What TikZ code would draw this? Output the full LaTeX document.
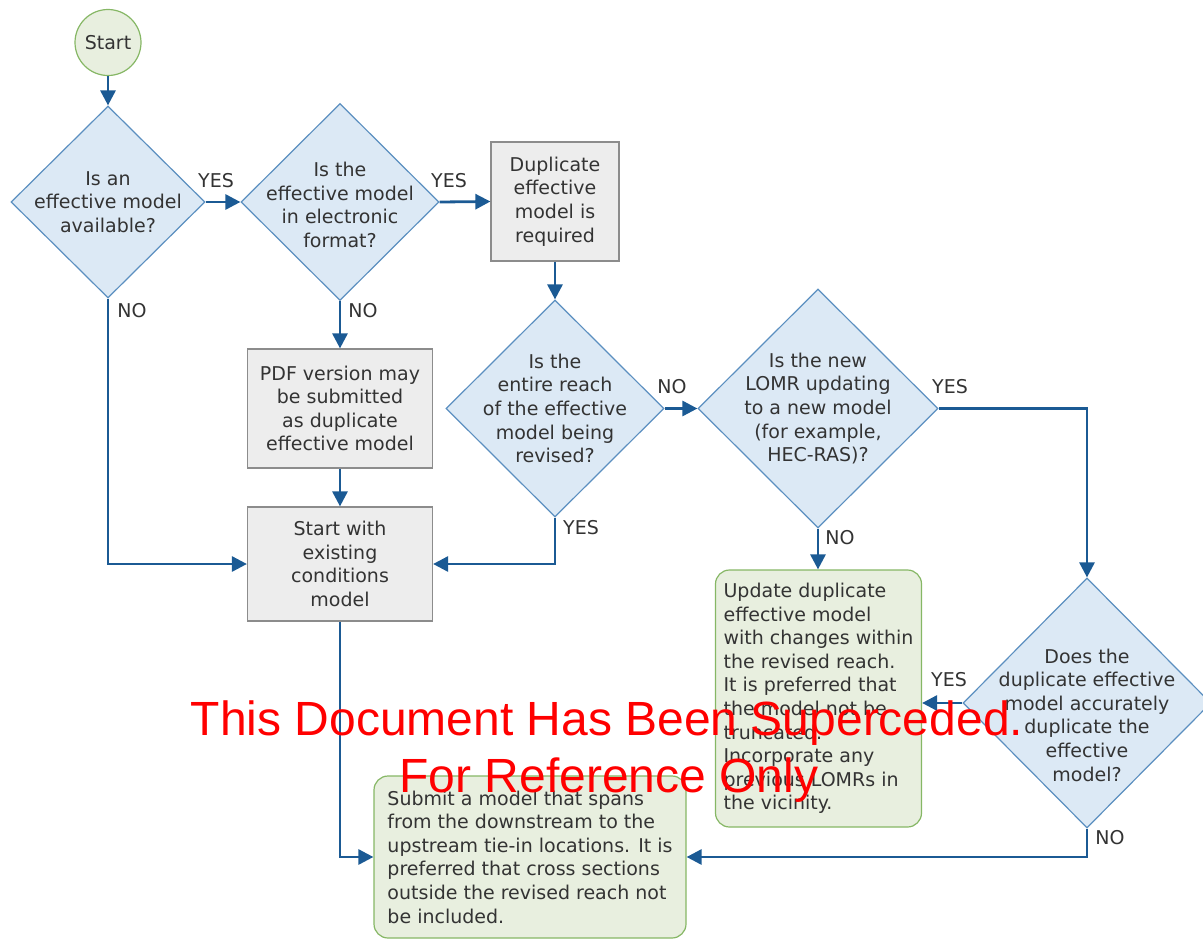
\documentclass[tikz,border=0pt]{standalone}
\usepackage{fontspec}
\setmainfont{DejaVu Sans}
\newfontfamily\stampfont{Liberation Sans}
\usetikzlibrary{shapes.geometric, arrows.meta}

\definecolor{flowblue}{HTML}{1B5A94}
\definecolor{qfill}{HTML}{DCE9F5}
\definecolor{qline}{HTML}{5B8FC0}
\definecolor{boxfill}{HTML}{EDEDED}
\definecolor{boxline}{HTML}{8C8C8C}
\definecolor{endfill}{HTML}{E8EFDF}
\definecolor{endline}{HTML}{86B765}
\definecolor{txt}{HTML}{333333}

\tikzset{
  question/.style={diamond, aspect=1, draw=qline, fill=qfill, line width=1.2pt, inner sep=0pt},
  qtext/.style={align=center, text=txt},
  process/.style={rectangle, draw=boxline, fill=boxfill, line width=1.2pt, align=center, text=txt, inner sep=0pt},
  result/.style={rectangle, rounded corners=14pt, draw=endline, fill=endfill, line width=1.2pt, align=left, text=txt, inner sep=0pt},
  answer/.style={text=txt, inner sep=0pt},
  flow/.style={-{Triangle[length=15pt,width=15pt]}, draw=flowblue, line width=2.8pt},
  stamp/.style={text=red, font=\stampfont\fontsize{48}{57}\selectfont, inner sep=0pt, anchor=base}
}

\begin{document}
\begin{tikzpicture}[x=1pt, y=-1pt, font=\fontsize{19}{23.6}\selectfont]
    \useasboundingbox (0,0) rectangle (1203,940);

    % Define steps
    \node[circle, draw=endline, fill=endfill, line width=1.2pt, minimum size=66pt, inner sep=0pt, text=txt] (start) at (108,42.5) {Start};
    \node[question, minimum width=194pt, minimum height=192pt,
          label={[qtext]center:{Is an\\effective model\\available?}}] (avail) at (108,202) {};
    \node[question, minimum width=198pt, minimum height=197pt,
          label={[qtext, yshift=-3pt]center:{Is the\\effective model\\in electronic\\format?}}] (digital) at (340,202) {};
    \node[process, minimum width=128pt, minimum height=119pt] (dupreq) at (555,201.5) {Duplicate\\effective\\model is\\required};
    \node[question, minimum width=218pt, minimum height=217pt,
          label={[qtext]center:{Is the\\entire reach\\of the effective\\model being\\revised?}}] (reach) at (555,408.5) {};
    \node[question, minimum width=240pt, minimum height=239pt,
          label={[qtext]center:{Is the new\\LOMR updating\\to a new model\\(for example,\\HEC-RAS)?}}] (newmodel) at (818,408.5) {};
    \node[process, minimum width=185pt, minimum height=119pt] (pdf) at (340,408.5) {PDF version may\\be submitted\\as duplicate\\effective model};
    \node[process, minimum width=185pt, minimum height=114pt] (existing) at (340,564) {Start with\\existing\\conditions\\model};
    \node[result, minimum width=206pt, minimum height=257pt] (update) at (818.5,698.5) {Update duplicate\\effective model\\with changes within\\the revised reach.\\It is preferred that\\the model not be\\truncated.\\Incorporate any\\previous LOMRs in\\the vicinity.};
    \node[question, minimum width=248pt, minimum height=250pt,
          label={[qtext, yshift=-12pt]center:{Does the\\duplicate effective\\model accurately\\duplicate the\\effective\\model?}}] (accurate) at (1087,703) {};
    \node[result, minimum width=312pt, minimum height=162pt] (submit) at (530,857) {Submit a model that spans\\from the downstream to the\\upstream tie-in locations. It is\\preferred that cross sections\\outside the revised reach not\\be included.};

    % Connectors
    \draw[flow] (start) -- (avail.north);
    \draw[flow] (avail.east) -- (digital.west);
    \draw[flow] (digital.east) -- (dupreq.west);
    \draw[flow] (dupreq) -- (reach.north);
    \draw[flow] (avail.south) |- (existing.west);
    \draw[flow] (digital.south) -- (pdf.north);
    \draw[flow] (pdf) -- (existing);
    \draw[flow] (reach.south) |- (existing.east);
    \draw[flow] (reach.east) -- (newmodel.west);
    \draw[flow] (newmodel.south) -- (newmodel.south |- update.north);
    \draw[flow] (newmodel.east) -| (accurate.north);
    \draw[flow] (accurate.west) -- (accurate.west -| update.east);
    \draw[flow] (accurate.south) |- (submit.east);
    \draw[flow] (existing.south) |- (submit.west);

    % Answers
    \node[answer] (yes1) at (216,181) {YES};
    \node[answer] (yes2) at (449,181) {YES};
    \node[answer] (no1) at (132,311) {NO};
    \node[answer] (no2) at (363,311) {NO};
    \node[answer] (no3) at (672,387) {NO};
    \node[answer] (yes3) at (581,528) {YES};
    \node[answer] (no4) at (840,538) {NO};
    \node[answer] (yes4) at (950,387) {YES};
    \node[answer] (yes5) at (949,680) {YES};
    \node[answer] (no5) at (1110,838) {NO};

    % Stamp
    \node[stamp] (stamp1) at (607,735) {This Document Has Been Superceded.};
    \node[stamp] (stamp2) at (609,792) {For Reference Only};

    \end{tikzpicture}
\end{document}
